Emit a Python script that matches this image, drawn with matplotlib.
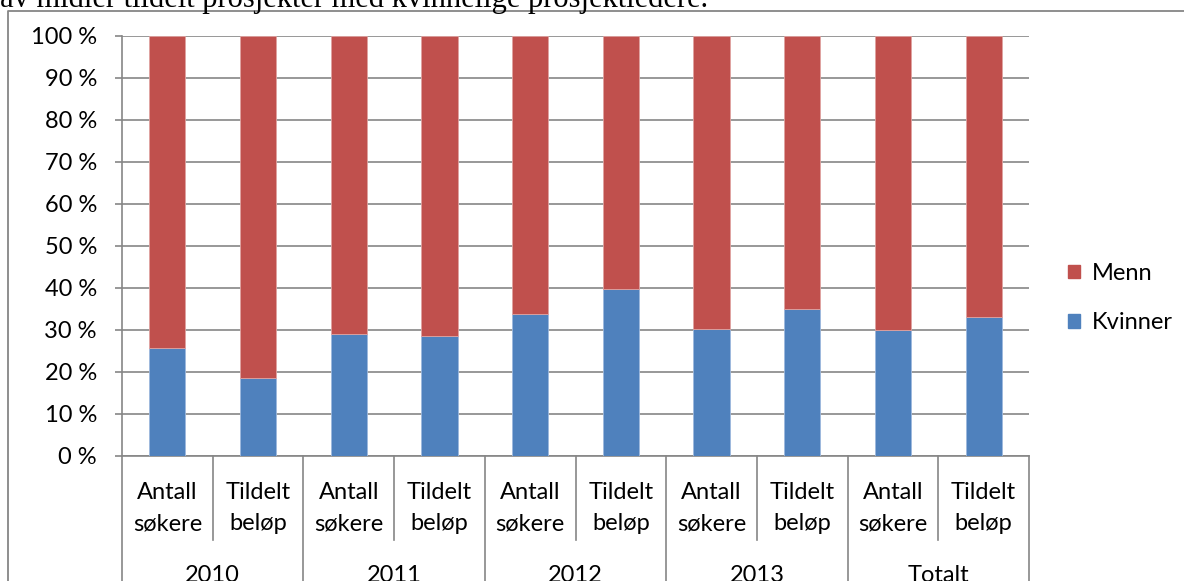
import matplotlib
matplotlib.use("Agg")
import matplotlib.pyplot as plt
from matplotlib.patches import Patch
from matplotlib.lines import Line2D
import matplotlib.transforms as mtrans

# ---- data ----
groups = ["2010", "2011", "2012", "2013", "Totalt"]
subcats = ["Antall\nsøkere", "Tildelt\nbeløp"]
kvinner = [25.6, 18.5, 29.0, 28.5, 33.7, 39.8, 30.3, 35.1, 30.1, 33.2]
menn = [100 - k for k in kvinner]
yticks = list(range(0, 101, 10))
ytick_labels = [f"{v} %" for v in yticks]
title_text = "av midler tildelt prosjekter med kvinnelige prosjektledere."

BLUE = "#4F81BD"
RED = "#C0504D"
GRID = "#868686"
FS = 17

W, H = 1184, 581
plt.rcParams['font.family'] = ['Lato', 'DejaVu Sans']
fig = plt.figure(figsize=(W / 100, H / 100), dpi=100)

# outer chart border
fig.add_artist(Line2D([8 / W, 8 / W, 1.0], [0, 1 - 11 / H, 1 - 11 / H],
                      transform=fig.transFigure, color=GRID, lw=1.3))
# clipped title text above
fig.text(0.0, 1 - 7 / H, title_text, family=['Liberation Serif'],
         fontsize=22, va='baseline', ha='left', color='black')

left, right, top, bottom = 122, 1029, 36, 456
ax = fig.add_axes([left / W, 1 - bottom / H, (right - left) / W, (bottom - top) / H])

n = len(kvinner)
x = list(range(n))
ax.bar(x, kvinner, width=0.4, color=BLUE, label="Kvinner", zorder=3,
       edgecolor="#9DB9DE", linewidth=0.6)
ax.bar(x, menn, width=0.4, bottom=kvinner, color=RED, label="Menn", zorder=3,
       edgecolor="#E0A3A1", linewidth=0.6)

ax.set_xlim(-0.5, n - 0.5)
ax.set_ylim(0, 100)
ax.set_yticks(yticks)
ax.set_yticklabels(ytick_labels, fontsize=FS)
ax.tick_params(axis='y', length=5, color=GRID, width=1.2, pad=13)
ax.set_xticks([])
ax.yaxis.grid(True, color=GRID, lw=1.2, zorder=0)
ax.set_axisbelow(True)
for s in ['top', 'right']:
    ax.spines[s].set_visible(False)
for s in ['left', 'bottom']:
    ax.spines[s].set_color(GRID)
    ax.spines[s].set_linewidth(1.2)

trans = mtrans.blended_transform_factory(ax.transData, ax.transAxes)
inner_bottom = -(540 - bottom) / (bottom - top)
outer_bottom = -(H + 5 - bottom) / (bottom - top)
for i in range(n + 1):
    xb = i - 0.5
    yb = outer_bottom if i % 2 == 0 else inner_bottom
    ax.add_artist(Line2D([xb, xb], [0, yb], transform=trans, color=GRID,
                         lw=1.2, clip_on=False))

for i in range(n):
    ax.text(i, -(508 - bottom) / (bottom - top), subcats[i % 2], transform=trans,
            ha='center', va='center', fontsize=FS, linespacing=1.6)
for g, name in enumerate(groups):
    ax.text(2 * g + 0.5, -(576 - bottom) / (bottom - top), name, transform=trans,
            ha='center', va='center', fontsize=FS)

handles = [Patch(color=RED, label="Menn"), Patch(color=BLUE, label="Kvinner")]
fig.legend(handles=handles, loc='center left',
           bbox_to_anchor=(1047 / W, 1 - 298 / H), frameon=False,
           fontsize=FS, handlelength=0.5, handleheight=0.5,
           handletextpad=0.5, labelspacing=1.2)

fig.savefig("out.png", dpi=100)
